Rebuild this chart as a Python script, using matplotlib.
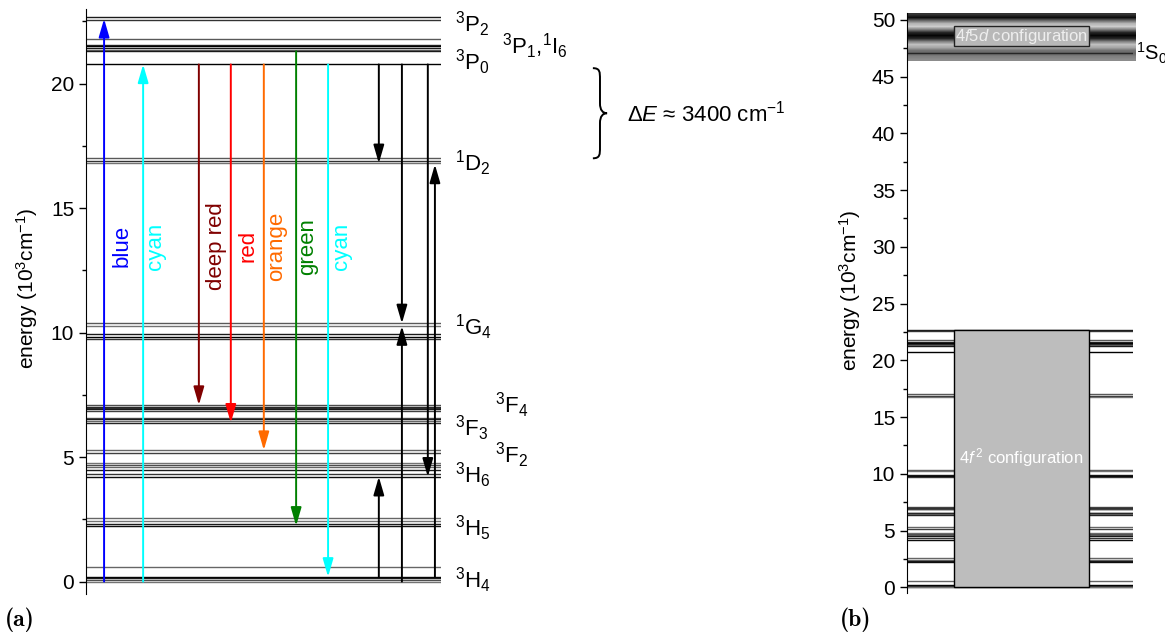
import matplotlib.pyplot as plt
import numpy as np
from matplotlib.patches import Rectangle, FancyArrowPatch, PathPatch
from matplotlib.path import Path
from matplotlib.ticker import MultipleLocator
import matplotlib.transforms as mtransforms

plt.rcParams['font.family'] = ['Liberation Sans', 'DejaVu Sans']
plt.rcParams['mathtext.fontset'] = 'custom'
plt.rcParams['mathtext.rm'] = 'Liberation Sans'
plt.rcParams['mathtext.it'] = 'Liberation Sans:italic'
plt.rcParams['mathtext.bf'] = 'Liberation Sans:bold'

# Stark levels of the 4f2 configuration (10^3 cm^-1) and their grey shade
levels = [22.66, 22.55, 21.79, 21.57, 21.50, 21.43, 21.36, 21.30, 20.77,
          17.00, 16.90, 16.80,
          10.37, 10.26, 9.93, 9.83, 9.74,
          7.09, 7.02, 6.96, 6.92, 6.86, 6.58, 6.51, 6.45, 6.38,
          5.28, 5.17, 4.75, 4.67, 4.59, 4.48, 4.32, 4.21,
          2.56, 2.44, 2.31, 2.24,
          0.57, 0.19, 0.13, 0.06, 0.00]
level_grey = [0.1, 0.2, 0.35, 0.15, 0.0, 0.1, 0.4, 0.1, 0.0,
              0.35, 0.2, 0.45,
              0.35, 0.45, 0.1, 0.0, 0.2,
              0.3, 0.15, 0.2, 0.1, 0.25, 0.3, 0.1, 0.4, 0.15,
              0.4, 0.25, 0.45, 0.3, 0.4, 0.1, 0.2, 0.05,
              0.4, 0.45, 0.1, 0.05,
              0.4, 0.0, 0.1, 0.3, 0.45]

# term labels
terms = [r'$^3$P$_2$', r'$^3$P$_1$,$^1$I$_6$', r'$^3$P$_0$', r'$^1$D$_2$', r'$^1$G$_4$',
         r'$^3$F$_4$', r'$^3$F$_3$', r'$^3$F$_2$', r'$^3$H$_6$', r'$^3$H$_5$', r'$^3$H$_4$']
term_y = [22.4, 21.5, 20.85, 16.8, 10.2, 7.1, 6.16, 5.08, 4.28, 2.15, 0.06]
term_x = [1.039, 1.172, 1.039, 1.039, 1.039, 1.152, 1.039, 1.152, 1.039, 1.039, 1.039]

# transitions (start, end) in 10^3 cm^-1
trans_start = [0.0, 0.0, 20.77, 20.77, 20.77, 21.30, 20.77, 20.77, 0.19, 20.77, 0.0, 20.77, 0.19]
trans_end = [22.60, 20.77, 7.09, 6.38, 5.28, 2.24, 0.19, 16.80, 4.21, 10.37, 10.26, 4.21, 16.75]
trans_color = ['#0000ff', '#00ffff', '#800000', '#ff0000', '#ff6a00', '#008000', '#00ffff',
               'k', 'k', 'k', 'k', 'k', 'k']
trans_x = [0.051, 0.161, 0.318, 0.408, 0.501, 0.592, 0.682, 0.825, 0.825, 0.890, 0.890, 0.963, 0.983]

emission_names = ['blue', 'cyan', 'deep red', 'red', 'orange', 'green', 'cyan']
emission_x = [0.101, 0.197, 0.369, 0.456, 0.538, 0.625, 0.721]

# 4f5d band limits and shading profile (top to bottom)
band_low, band_high = 46.4, 50.6
band_profile = [0.2, 0.05, 0.4, 0.7, 0.8, 0.5, 0.15, 0.02, 0.15, 0.5, 0.75, 0.65, 0.45, 0.4, 0.5, 0.55]
s0_level = 47.07

fig = plt.figure(figsize=(11.65, 6.36), dpi=100)

# ---------- (a) ----------
ax = fig.add_axes([0.0738, 0.066, 0.3047, 0.92])
ax.set_xlim(0, 1)
ax.set_ylim(-0.5, 23.0)
cols = [str(g) for g in level_grey]
ax.hlines(levels, 0, 1, colors=cols, lw=1.0)

for x, a, b, c in zip(trans_x, trans_start, trans_end, trans_color):
    ax.add_patch(FancyArrowPatch((x, a), (x, b), arrowstyle='-|>,head_length=1.1,head_width=0.32',
                                 mutation_scale=10, color=c, lw=1.4, shrinkA=0, shrinkB=0, zorder=3))

for name, x, c in zip(emission_names, emission_x, trans_color):
    ax.text(x, 13.47, name, rotation=90, ha='center', va='center', color=c, fontsize=16)

for t, x, y in zip(terms, term_x, term_y):
    ax.text(x, y, t, ha='left', va='center', fontsize=16, clip_on=False)

# brace for the 3P0 - 1D2 gap
tr = mtransforms.blended_transform_factory(ax.transAxes, ax.transData)
xl, xm, xt = 1.428, 1.448, 1.468
yt, yb = 20.62, 17.0
ym = (yt + yb) / 2
verts = [(xl, yt), (xm, yt), (xm, yt - 0.15), (xm, yt - 0.45),
         (xm, ym + 0.4),
         (xm, ym + 0.12), (xm + 0.008, ym), (xt, ym),
         (xm + 0.008, ym), (xm, ym - 0.12), (xm, ym - 0.4),
         (xm, yb + 0.45),
         (xm, yb + 0.15), (xm, yb), (xl, yb)]
codes = [Path.MOVETO] + [Path.CURVE4] * 3 + [Path.LINETO] + [Path.CURVE4] * 6 + [Path.LINETO] + [Path.CURVE4] * 3
ax.add_patch(PathPatch(Path(verts, codes), transform=tr, fill=False, lw=1.4, clip_on=False))
ax.text(1.524, ym, r'Δ$\mathit{E}$ ≈ 3400 cm$^{-1}$', transform=tr, ha='left', va='center', fontsize=16)

for sp in ['top', 'right', 'bottom']:
    ax.spines[sp].set_visible(False)
ax.set_xticks([])
ax.yaxis.set_major_locator(MultipleLocator(5))
ax.yaxis.set_minor_locator(MultipleLocator(2.5))
ax.tick_params(axis='y', which='major', direction='out', length=5, width=1, labelsize=15)
ax.tick_params(axis='y', which='minor', direction='out', length=3, width=1)

# ---------- (b) ----------
bx = fig.add_axes([0.7785, 0.0676, 0.194, 0.912])
bx.hlines(levels, 0, 1, colors=cols, lw=1.0)
grad = np.array(band_profile)[:, None]
bx.imshow(grad, cmap='gray', vmin=0, vmax=1, extent=(0, 1.013, band_low, band_high),
          aspect='auto', interpolation='bilinear', clip_on=False, zorder=1)
bx.hlines([s0_level], 0, 1, colors='0.15', lw=1.0, zorder=2)
bx.add_patch(Rectangle((0.208, 47.67), 0.597, 1.76, fc='#b8b8b8', ec='#222222', lw=1, zorder=3))
bx.text(0.507, 48.55, r'4$\mathit{f}$5$\mathit{d}$ configuration', ha='center', va='center',
        color='#eeeeee', fontsize=12, zorder=4)
bx.text(1.012, s0_level, r'$^1$S$_0$', ha='left', va='center', fontsize=14.5, clip_on=False)

bx.add_patch(Rectangle((0.208, 0), 0.597, max(levels), fc='#bdbdbd', ec='k', lw=1, zorder=3))
bx.text(0.507, 11.4, r'4$\mathit{f}^{\,2}$ configuration', ha='center', va='center',
        color='white', fontsize=12, zorder=4)

bx.set_xlim(0, 1)
bx.set_ylim(-0.5, 50.6)
for sp in ['top', 'right', 'bottom']:
    bx.spines[sp].set_visible(False)
bx.set_xticks([])
bx.yaxis.set_major_locator(MultipleLocator(5))
bx.yaxis.set_minor_locator(MultipleLocator(2.5))
bx.tick_params(axis='y', which='major', direction='out', length=5, width=1, labelsize=15)
bx.tick_params(axis='y', which='minor', direction='out', length=3, width=1)

# axis titles and panel letters
ylab = r'energy (10$^3$cm$^{-1}$)'
fig.text(27 / 1165, 1 - 288 / 636, ylab, rotation=90, ha='center', va='center', fontsize=15)
fig.text(850 / 1165, 1 - 290 / 636, ylab, rotation=90, ha='center', va='center', fontsize=15)
fig.text(5 / 1165, 1 - 620 / 636, '(a)', fontsize=17, fontweight='bold',
         family=['cmb10', 'DejaVu Serif'], va='center')
fig.text(840 / 1165, 1 - 620 / 636, '(b)', fontsize=17, fontweight='bold',
         family=['cmb10', 'DejaVu Serif'], va='center')

fig.savefig('out.png', dpi=100)
